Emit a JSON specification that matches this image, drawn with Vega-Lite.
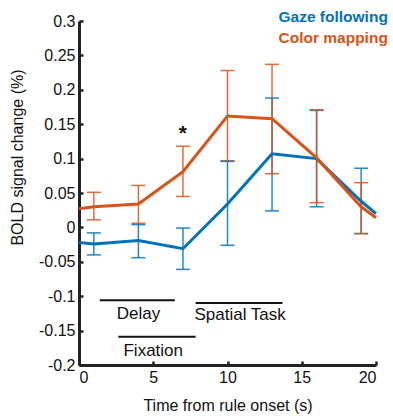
{
  "$schema": "https://vega.github.io/schema/vega-lite/v6.json",
  "width": 297,
  "height": 344,
  "autosize": {"type": "none"},
  "padding": {"left": 79, "top": 21, "right": 17, "bottom": 54},
  "background": "white",
  "config": {
    "view": {"stroke": null},
    "font": "Liberation Sans",
    "axis": {
      "grid": false,
      "domainColor": "#222222",
      "domainWidth": 3,
      "tickColor": "#222222",
      "tickWidth": 2.5,
      "tickSize": -4,
      "labelFont": "Liberation Sans",
      "labelFontSize": 16,
      "labelColor": "#111111",
      "titleFont": "Liberation Sans",
      "titleFontSize": 16,
      "titleFontWeight": "normal",
      "titleColor": "#111111"
    }
  },
  "datasets": {
    "series": [
      {"t": 0, "group": "Gaze following", "mean": -0.022, "lo": null, "hi": null},
      {"t": 1, "group": "Gaze following", "mean": -0.024, "lo": -0.040, "hi": -0.008},
      {"t": 4, "group": "Gaze following", "mean": -0.019, "lo": -0.044, "hi": 0.004},
      {"t": 7, "group": "Gaze following", "mean": -0.031, "lo": -0.061, "hi": -0.001},
      {"t": 10, "group": "Gaze following", "mean": 0.034, "lo": -0.026, "hi": 0.096},
      {"t": 13, "group": "Gaze following", "mean": 0.107, "lo": 0.024, "hi": 0.188},
      {"t": 16, "group": "Gaze following", "mean": 0.100, "lo": 0.030, "hi": 0.170},
      {"t": 19, "group": "Gaze following", "mean": 0.038, "lo": -0.009, "hi": 0.086},
      {"t": 20, "group": "Gaze following", "mean": 0.020, "lo": null, "hi": null},
      {"t": 0, "group": "Color mapping", "mean": 0.027, "lo": null, "hi": null},
      {"t": 1, "group": "Color mapping", "mean": 0.030, "lo": 0.011, "hi": 0.051},
      {"t": 4, "group": "Color mapping", "mean": 0.034, "lo": 0.006, "hi": 0.061},
      {"t": 7, "group": "Color mapping", "mean": 0.081, "lo": 0.045, "hi": 0.118},
      {"t": 10, "group": "Color mapping", "mean": 0.162, "lo": 0.097, "hi": 0.228},
      {"t": 13, "group": "Color mapping", "mean": 0.158, "lo": 0.078, "hi": 0.237},
      {"t": 16, "group": "Color mapping", "mean": 0.101, "lo": 0.036, "hi": 0.171},
      {"t": 19, "group": "Color mapping", "mean": 0.030, "lo": -0.009, "hi": 0.065},
      {"t": 20, "group": "Color mapping", "mean": 0.014, "lo": null, "hi": null}
    ],
    "periods": [
      {"name": "Delay", "start": 1.4, "end": 6.45, "level": -0.106},
      {"name": "Spatial Task", "start": 7.85, "end": 13.7, "level": -0.110},
      {"name": "Fixation", "start": 2.65, "end": 7.85, "level": -0.159}
    ],
    "notes": [
      {"text": "Delay", "t": 4.0, "v": -0.1255},
      {"text": "Spatial Task", "t": 10.85, "v": -0.128},
      {"text": "Fixation", "t": 5.0, "v": -0.180}
    ],
    "marks": [
      {"text": "*", "t": 7, "v": 0.136}
    ]
  },
  "encoding": {
    "x": {
      "type": "quantitative",
      "scale": {"domain": [0, 20], "nice": false, "zero": false},
      "axis": {
        "values": [0, 5, 10, 15, 20],
        "title": "Time from rule onset (s)",
        "labelPadding": 8,
        "titlePadding": 12
      }
    },
    "y": {
      "type": "quantitative",
      "scale": {"domain": [-0.2, 0.3], "nice": false, "zero": false},
      "axis": {
        "values": [-0.2, -0.15, -0.1, -0.05, 0, 0.05, 0.1, 0.15, 0.2, 0.25, 0.3],
        "labelExpr": "datum.value < 0 ? '-' + format(-datum.value, '~g') : format(datum.value, '~g')",
        "labelPadding": 8,
        "title": "BOLD signal change (%)",
        "titleX": -62,
        "titleY": 136,
        "titleAlign": "center",
        "titleBaseline": "middle"
      }
    },
    "color": {
      "field": "group",
      "type": "nominal",
      "sort": ["Gaze following", "Color mapping"],
      "scale": {"domain": ["Gaze following", "Color mapping"], "range": ["#0072BD", "#D95319"]},
      "legend": {
        "title": null,
        "orient": "none",
        "legendX": 184,
        "legendY": -12,
        "padding": 0,
        "symbolSize": 1,
        "symbolStrokeWidth": 0,
        "symbolOpacity": 0,
        "labelOffset": 0,
        "labelFontSize": 15.5,
        "labelFontWeight": "bold",
        "labelFont": "Liberation Sans",
        "rowPadding": 4,
        "encode": {"labels": {"update": {"fill": {"scale": "color", "field": "value"}}}}
      }
    }
  },
  "layer": [
    {
      "data": {"name": "series"},
      "transform": [{"filter": "datum.lo != null"}],
      "mark": {"type": "rule", "strokeWidth": 1.5, "opacity": 0.85},
      "encoding": {
        "x": {"field": "t"},
        "y": {"field": "lo"},
        "y2": {"field": "hi"}
      }
    },
    {
      "data": {"name": "series"},
      "transform": [{"filter": "datum.lo != null"}],
      "mark": {"type": "tick", "orient": "horizontal", "size": 14, "thickness": 1.5, "opacity": 0.85},
      "encoding": {
        "x": {"field": "t"},
        "y": {"field": "lo"}
      }
    },
    {
      "data": {"name": "series"},
      "transform": [{"filter": "datum.hi != null"}],
      "mark": {"type": "tick", "orient": "horizontal", "size": 14, "thickness": 1.5, "opacity": 0.85},
      "encoding": {
        "x": {"field": "t"},
        "y": {"field": "hi"}
      }
    },
    {
      "data": {"name": "series"},
      "mark": {"type": "line", "strokeWidth": 3},
      "encoding": {
        "x": {"field": "t"},
        "y": {"field": "mean"}
      }
    },
    {
      "data": {"name": "periods"},
      "mark": {"type": "rule", "strokeWidth": 2},
      "encoding": {
        "x": {"field": "start"},
        "x2": {"field": "end"},
        "y": {"field": "level"},
        "color": {"value": "#111111"}
      }
    },
    {
      "data": {"name": "notes"},
      "mark": {"type": "text", "fontSize": 17, "font": "Liberation Sans", "baseline": "middle", "align": "center"},
      "encoding": {
        "x": {"field": "t"},
        "y": {"field": "v"},
        "text": {"field": "text"},
        "color": {"value": "#111111"}
      }
    },
    {
      "data": {"name": "marks"},
      "mark": {"type": "text", "fontSize": 21, "fontWeight": "bold", "font": "Liberation Sans", "baseline": "middle", "align": "center"},
      "encoding": {
        "x": {"field": "t"},
        "y": {"field": "v"},
        "text": {"field": "text"},
        "color": {"value": "#111111"}
      }
    }
  ]
}
